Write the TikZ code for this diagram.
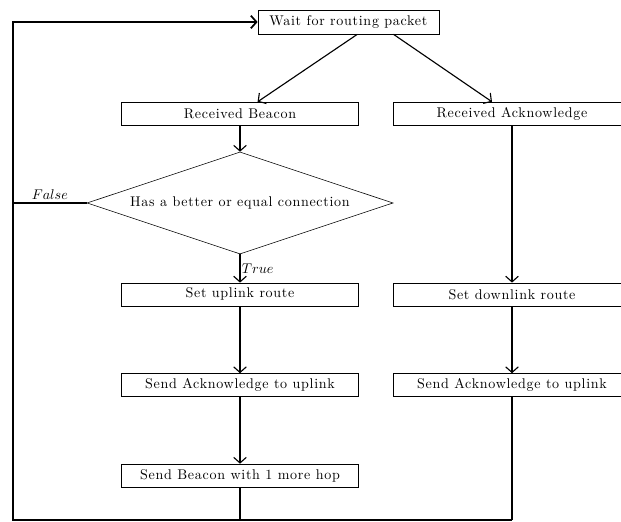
\documentclass[tikz,border=0pt]{standalone}
\usepackage{amsmath, amssymb}
\usepackage{fontspec}
\setmainfont{Latin Modern Roman}[LetterSpace=5]
\usepackage{tikz}
\usetikzlibrary{shapes.geometric, arrows.meta}

\begin{document}
\begin{tikzpicture}[>={Straight Barb[length=4pt, width=9pt]}, inner sep=1mm,
  box/.style={draw, thin, rectangle, minimum width=5.925cm, minimum height=0.575cm},
  test/.style={draw, thin, diamond, aspect=3, inner sep=0pt, minimum width=7.65cm, minimum height=2.55cm}]
\useasboundingbox (0,0) rectangle (15.525,13.05);
\node (wait) at (8.71,12.5) [box, minimum width=4.525cm, minimum height=0.6cm] {Wait for routing packet};
\node (recvB) at (6,10.21) [box] {Received Beacon};
\node (recvA) at (12.8,10.21) [box] {Received Acknowledge};
\node (cond) at (6,7.975) [test] {Has a better or equal connection};
\node (setUp) at (6,5.69) [box] {Set uplink route};
\node (setDown) at (12.8,5.69) [box] {Set downlink route};
\node (ackL) at (6,3.425) [box] {Send Acknowledge to uplink};
\node (ackR) at (12.8,3.425) [box] {Send Acknowledge to uplink};
\node (beacon) at (6,1.1625) [box] {Send Beacon with 1 more hop};
\coordinate (bl) at (0.325,0.05);
\coordinate (tl) at (0.325,12.5);
\draw[->, thick] ([xshift=0.225cm]wait.south) -- ([xshift=0.44cm]recvB.north);
\draw[->, thick] ([xshift=1.125cm]wait.south) -- ([xshift=-0.5cm]recvA.north);
\draw[->, thick] (recvB) -- (cond);
\draw[->, thick] (cond) -- node[midway, right, inner sep=1pt] (truelbl) {$True$} (setUp);
\draw[->, thick] (setUp) -- (ackL);
\draw[->, thick] (ackL) -- (beacon);
\draw[->, thick] (recvA) -- (setDown);
\draw[->, thick] (setDown) -- (ackR);
\draw[thick] (beacon) -- (beacon |- bl);
\draw[thick] (ackR) -- (ackR |- bl);
\draw[very thick] (cond) -- node[midway, above, inner sep=2pt] (falselbl) {$False$} (cond -| bl);
\draw[->, very thick] (ackR |- bl) -- (bl) -- (tl) -- (wait);
\end{tikzpicture}
\end{document}
